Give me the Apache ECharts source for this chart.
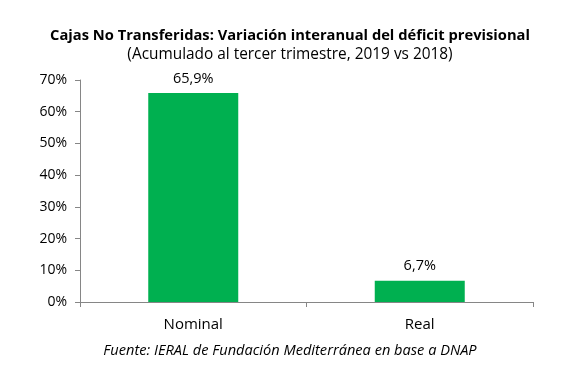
<!DOCTYPE html>
<html><head><meta charset="utf-8">
<script src="https://cdn.jsdelivr.net/npm/echarts@6/dist/echarts.min.js"></script>
<style>html,body{margin:0;padding:0;background:#fff}#c{width:580px;height:366px}</style>
</head><body><div id="c"></div>
<script>
const categories = ['Nominal', 'Real'];
const values = [65.9, 6.7];
const valueLabels = ['65,9%', '6,7%'];
const yTicks = [0, 10, 20, 30, 40, 50, 60, 70];

const FONT = '"Open Sans", sans-serif';
const chart = echarts.init(document.getElementById('c'));
chart.setOption({
  animation: false,
  title: [
    { text: 'Cajas No Transferidas: Variación interanual del déficit previsional', left: 'center', top: 23,
      textStyle: { fontFamily: FONT, fontSize: 14.7, fontWeight: 'bold', color: '#000' } },
    { text: '(Acumulado al tercer trimestre, 2019 vs 2018)', left: 'center', top: 42,
      textStyle: { fontFamily: FONT, fontSize: 15.4, fontWeight: 'normal', color: '#000' } },
    { text: 'Fuente: IERAL de Fundación Mediterránea en base a DNAP', left: 'center', top: 338,
      textStyle: { fontFamily: FONT, fontSize: 14.6, fontWeight: 'normal', fontStyle: 'italic', color: '#000' } }
  ],
  grid: { left: 80, right: 47, top: 80, bottom: 64 },
  xAxis: {
    type: 'category', data: categories,
    axisLine: { lineStyle: { color: '#868686' } },
    axisTick: { show: true, alignWithLabel: false, length: 5, lineStyle: { color: '#868686' } },
    axisLabel: { fontFamily: FONT, fontSize: 15, color: '#000', margin: 15 }
  },
  yAxis: {
    type: 'value', min: 0, max: 70, interval: 10,
    axisLine: { show: true, lineStyle: { color: '#868686' } },
    axisTick: { show: true, length: 5, lineStyle: { color: '#868686' } },
    splitLine: { show: false },
    axisLabel: { fontFamily: FONT, fontSize: 14, color: '#000', margin: 13,
      formatter: v => yTicks.includes(v) ? v + '%' : '' }
  },
  series: [{
    type: 'bar', data: values, barWidth: 90, itemStyle: { color: '#00B050' },
    label: { show: true, position: 'top', distance: 7, fontFamily: FONT, fontSize: 14.5, color: '#000',
      formatter: p => valueLabels[p.dataIndex] }
  }]
});
</script></body></html>
